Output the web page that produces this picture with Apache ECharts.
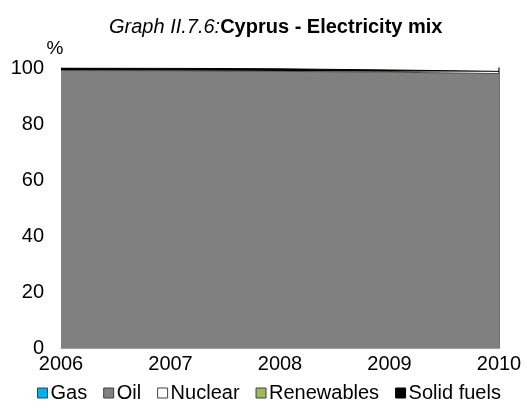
<!DOCTYPE html>
<html>
<head>
<meta charset="utf-8">
<script src="https://cdn.jsdelivr.net/npm/echarts@6/dist/echarts.min.js"></script>
<style>
  html, body { margin: 0; padding: 0; background: #fff; }
  #chart { width: 527px; height: 412px; }
</style>
</head>
<body>
<div id="chart"></div>
<script>
var years = ['2006', '2007', '2008', '2009', '2010'];
var gas = [0, 0, 0, 0, 0];
var oil = [99.1, 99.0, 98.8, 98.5, 98.0];
var nuclear = [0, 0, 0, 0, 0];
var renewables = [0, 0, 0.1, 0.2, 0.3];
var solidFuels = [0.9, 0.9, 0.8, 0.6, 0.5];

var font = 'Liberation Sans, Arial, sans-serif';

function areaSeries(name, data, color, lineColor, lineWidth) {
    return {
        name: name,
        type: 'line',
        stack: 'mix',
        data: data,
        symbol: 'none',
        lineStyle: { width: lineWidth || 0, color: lineColor || color },
        areaStyle: { color: color, opacity: 1 },
        itemStyle: { color: color },
        emphasis: { disabled: true }
    };
}

var chart = echarts.init(document.getElementById('chart'));
chart.setOption({
    animation: false,
    title: {
        text: '{i|Graph II.7.6:}{b|Cyprus - Electricity mix}',
        left: 104,
        top: 12,
        textStyle: {
            rich: {
                i: { fontFamily: font, fontSize: 20, fontStyle: 'italic', fontWeight: 'normal', color: '#000' },
                b: { fontFamily: font, fontSize: 20, fontWeight: 'bold', color: '#000' }
            }
        }
    },
    grid: { left: 61, right: 28, top: 68, bottom: 64 },
    legend: {
        bottom: 4,
        left: 32,
        itemWidth: 10,
        itemHeight: 10,
        itemGap: 16,
        icon: 'rect',
        textStyle: { fontFamily: font, fontSize: 20, color: '#000', padding: [0, 0, 0, -2] },
        data: [
            { name: 'Gas', itemStyle: { color: '#00B0F0', borderColor: '#404040', borderWidth: 1 } },
            { name: 'Oil', itemStyle: { color: '#808080', borderColor: '#404040', borderWidth: 1 } },
            { name: 'Nuclear', itemStyle: { color: '#ffffff', borderColor: '#404040', borderWidth: 1 } },
            { name: 'Renewables', itemStyle: { color: '#9BBB59', borderColor: '#404040', borderWidth: 1 } },
            { name: 'Solid fuels', itemStyle: { color: '#000000', borderColor: '#000', borderWidth: 1 } }
        ]
    },
    xAxis: {
        type: 'category',
        data: years,
        boundaryGap: false,
        axisLine: { show: true, lineStyle: { color: '#a0a0a0' } },
        axisTick: { show: false },
        axisLabel: { fontFamily: font, fontSize: 20, color: '#000', margin: 6 }
    },
    yAxis: [{
        type: 'value',
        min: 0,
        max: 100,
        interval: 20,
        name: '%',
        nameGap: 6,
        nameTextStyle: { fontFamily: font, fontSize: 19, color: '#000', align: 'center', padding: [0, 0, 0, -12] },
        splitLine: { show: false },
        axisLine: { show: true, lineStyle: { color: '#a0a0a0' } },
        axisTick: { show: false },
        axisLabel: { fontFamily: font, fontSize: 20, color: '#000', margin: 17 }
    }, {
        type: 'value',
        min: 0,
        max: 100,
        position: 'right',
        splitLine: { show: false },
        axisLine: { show: true, lineStyle: { color: '#404040', width: 1.5 } },
        axisTick: { show: false },
        axisLabel: { show: false }
    }],
    series: [
        areaSeries('Gas', gas, '#00B0F0'),
        areaSeries('Oil', oil, '#808080', '#505050', 1),
        areaSeries('Nuclear', nuclear, '#ffffff'),
        areaSeries('Renewables', renewables, '#9BBB59'),
        areaSeries('Solid fuels', solidFuels, '#000000', '#000000', 1)
    ]
});
</script>
</body>
</html>
